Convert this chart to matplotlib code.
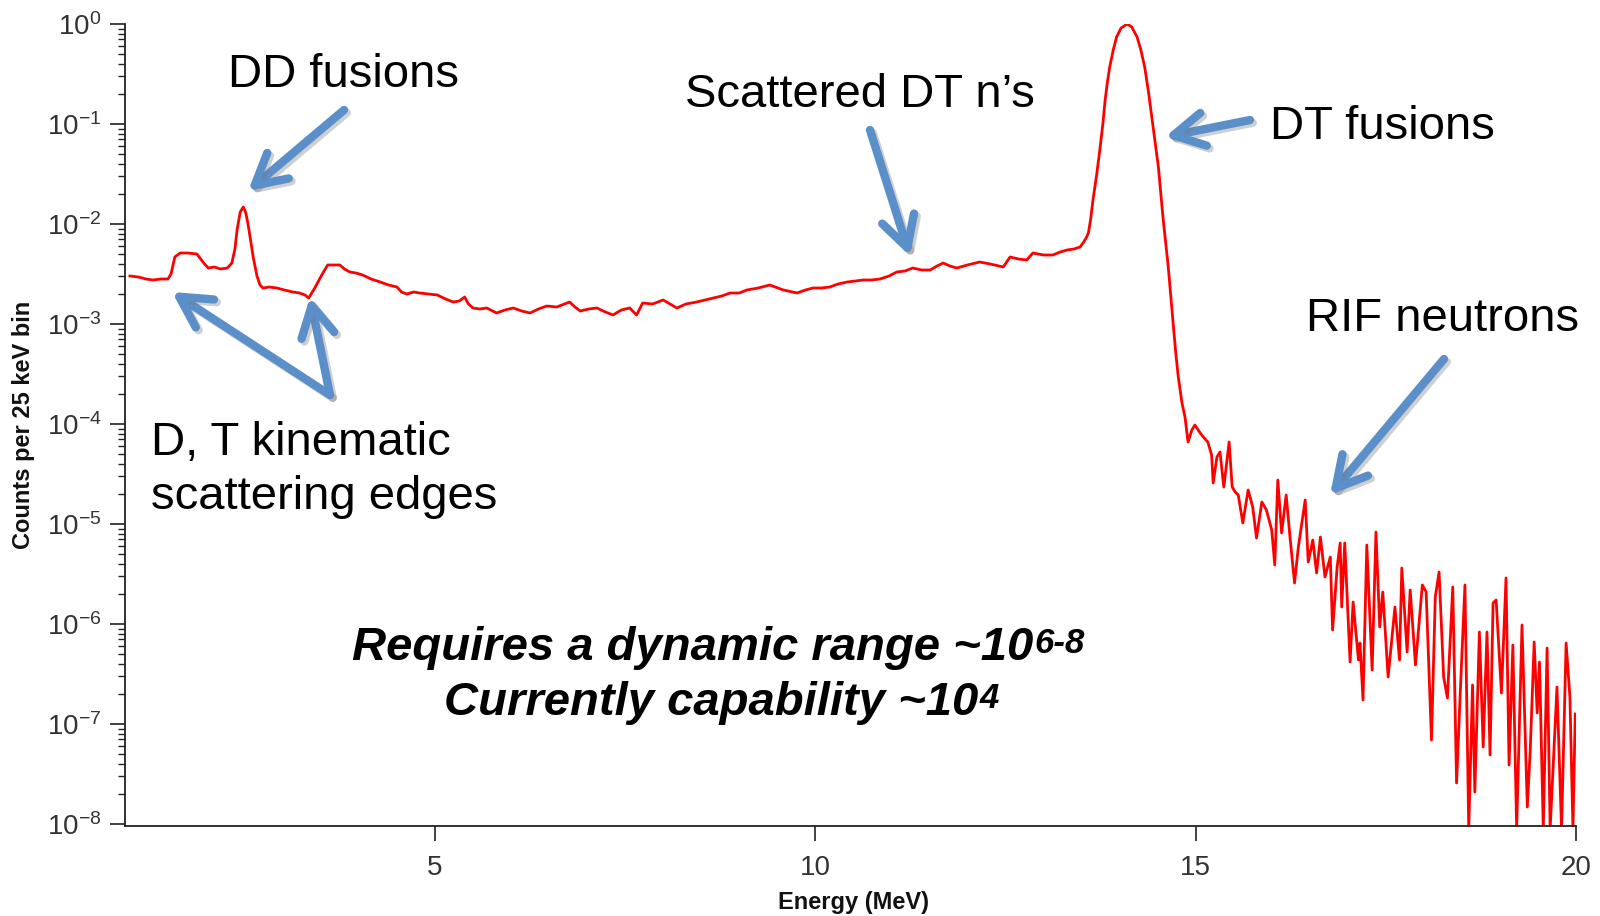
import matplotlib
matplotlib.use("Agg")
import matplotlib.pyplot as plt
import matplotlib.patheffects as pe
from matplotlib.ticker import FixedLocator, NullFormatter
import numpy as np

# ---------------- data ----------------
energy_mev = [
    0.99, 1.10, 1.20, 1.29, 1.40, 1.49, 1.53, 1.58, 1.65, 1.75, 1.87, 1.91, 1.97, 2.02, 2.10, 2.18, 2.27,
    2.33, 2.37, 2.40, 2.44, 2.48, 2.51, 2.54, 2.58, 2.61, 2.66, 2.70, 2.74, 2.82, 2.92, 3.02, 3.13, 3.22,
    3.29, 3.34, 3.38, 3.42, 3.49, 3.55, 3.59, 3.67, 3.75, 3.81, 3.88, 3.96, 4.05, 4.16, 4.28, 4.39, 4.50,
    4.56, 4.63, 4.72, 4.80, 4.92, 5.03, 5.14, 5.24, 5.32, 5.39, 5.44, 5.50, 5.59, 5.68, 5.81,
    5.92, 6.03, 6.14, 6.25, 6.36, 6.47, 6.60, 6.70, 6.77, 6.84, 6.91, 7.02, 7.13, 7.24, 7.34, 7.45, 7.56,
    7.65, 7.73, 7.86, 8.00, 8.09, 8.18, 8.30, 8.44, 8.55, 8.66, 8.77, 8.88, 9.00, 9.10, 9.25, 9.40, 9.58,
    9.76, 9.87, 9.97, 10.08, 10.19, 10.30, 10.42, 10.53, 10.63, 10.74, 10.85, 10.97, 11.07,
    11.18, 11.28, 11.40, 11.51, 11.60, 11.68, 11.77, 11.86, 12.00, 12.16, 12.30, 12.47, 12.56, 12.67,
    12.78, 12.86, 13.00, 13.12, 13.22, 13.31, 13.40, 13.48, 13.52, 13.56, 13.59, 13.62, 13.65,
    13.70, 13.74, 13.78, 13.81, 13.84, 13.87, 13.92, 13.96, 14.02, 14.10, 14.16, 14.23, 14.28, 14.33,
    14.38, 14.44, 14.51, 14.57, 14.64, 14.70, 14.74, 14.77, 14.82, 14.86,
    14.90, 14.95, 14.99, 15.06, 15.10, 15.16, 15.21, 15.23, 15.28, 15.32, 15.37, 15.44, 15.48, 15.52,
    15.56, 15.62, 15.69, 15.75, 15.80, 15.87, 15.93, 16.00, 16.04, 16.08, 16.13, 16.19, 16.24, 16.30,
    16.35, 16.44, 16.48, 16.54, 16.59, 16.64, 16.70, 16.77, 16.80, 16.86, 16.90,
    16.92, 16.96, 17.03, 17.07, 17.14, 17.16, 17.20, 17.25, 17.32, 17.37, 17.42, 17.46, 17.53, 17.62,
    17.68, 17.71, 17.78, 17.82, 17.89, 17.98, 18.03, 18.10, 18.15, 18.20, 18.26, 18.31, 18.38, 18.43,
    18.48, 18.54, 18.59, 18.64, 18.67, 18.73, 18.78, 18.83, 18.87, 18.91, 18.95, 19.02, 19.08, 19.12,
    19.17, 19.22, 19.29, 19.36, 19.40, 19.45, 19.49, 19.52, 19.57, 19.62, 19.66, 19.75, 19.81, 19.87,
    19.92, 19.96, 19.99,
]
log10_counts = [
    -2.52, -2.53, -2.55, -2.56, -2.55, -2.55, -2.50, -2.33, -2.29, -2.29, -2.30, -2.34, -2.40, -2.44,
    -2.43, -2.45, -2.44, -2.39, -2.25, -2.05, -1.88, -1.83, -1.88, -1.99, -2.18, -2.33, -2.52, -2.61,
    -2.64, -2.63, -2.64, -2.66, -2.68, -2.69, -2.71, -2.74, -2.69, -2.64, -2.54, -2.46, -2.41, -2.41,
    -2.41, -2.45, -2.48, -2.49, -2.51, -2.55, -2.58, -2.61, -2.63, -2.68, -2.70, -2.68, -2.69, -2.70,
    -2.71, -2.75, -2.78, -2.77, -2.73, -2.80, -2.84, -2.85, -2.84, -2.89,
    -2.86, -2.84, -2.87, -2.89, -2.85, -2.82, -2.83, -2.80, -2.78, -2.83, -2.87, -2.85, -2.84, -2.88,
    -2.91, -2.86, -2.84, -2.91, -2.79, -2.80, -2.76, -2.80, -2.84, -2.80, -2.78, -2.76, -2.74, -2.72,
    -2.69, -2.69, -2.66, -2.64, -2.61, -2.66, -2.69, -2.66, -2.64, -2.64, -2.63, -2.60, -2.58, -2.57,
    -2.56, -2.56, -2.55, -2.52, -2.48,
    -2.47, -2.44, -2.46, -2.46, -2.42, -2.39, -2.42, -2.44, -2.41, -2.38, -2.40, -2.43, -2.33, -2.35,
    -2.36, -2.29, -2.31, -2.31, -2.28, -2.26, -2.25, -2.23, -2.19, -2.14, -2.09, -1.95, -1.76,
    -1.50, -1.26, -1.00, -0.76, -0.58, -0.43, -0.25, -0.13, -0.04, 0.00, -0.03, -0.13, -0.26, -0.43,
    -0.68, -1.03, -1.43, -1.93, -2.43, -2.96, -3.30, -3.52, -3.79, -3.93,
    -4.18, -4.06, -4.01, -4.09, -4.13, -4.18, -4.31, -4.59, -4.33, -4.28, -4.63, -4.18, -4.63, -4.68,
    -4.71, -4.99, -4.66, -4.83, -5.14, -4.78, -4.86, -5.06, -5.41, -4.56, -5.09, -4.71, -5.13, -5.59,
    -5.23, -4.76, -5.38, -5.16, -5.49, -5.13, -5.53, -5.33, -6.06, -5.43, -5.19,
    -5.83, -5.19, -6.38, -5.78, -6.36, -6.19, -6.76, -5.21, -6.46, -5.08, -6.03, -5.68, -6.53, -5.83,
    -6.36, -5.44, -6.28, -5.66, -6.41, -5.61, -5.68, -7.16, -5.73, -5.48, -6.53, -6.74, -5.63, -7.59,
    -6.66, -5.61, -8.05, -6.61, -7.68, -6.08, -7.23, -6.08, -7.31, -5.79, -5.76, -6.69, -5.54, -7.41,
    -6.21, -8.05, -6.01, -7.83, -7.23, -6.18, -6.89, -6.38, -8.05, -6.24, -8.05, -6.63, -8.05, -6.19,
    -6.73, -8.05, -6.90,
]
x_ticks = [5, 10, 15, 20]
y_decades = [-8, -7, -6, -5, -4, -3, -2, -1, 0]
x_label = "Energy (MeV)"
y_label = "Counts per 25 keV bin"

counts = np.power(10.0, np.array(log10_counts))

# ---------------- figure ----------------
plt.rcParams["font.family"] = ["Liberation Sans", "DejaVu Sans"]
plt.rcParams["mathtext.fontset"] = "custom"
plt.rcParams["mathtext.rm"] = "Liberation Sans"
plt.rcParams["mathtext.it"] = "Liberation Sans:italic"
plt.rcParams["mathtext.bf"] = "Liberation Sans:bold"

W, H = 1600, 916
fig = plt.figure(figsize=(W / 100, H / 100), dpi=100)
ax_l, ax_r, ax_t, ax_b = 125, 1576, 24, 826
ax = fig.add_axes([ax_l / W, 1 - ax_b / H, (ax_r - ax_l) / W, (ax_b - ax_t) / H])

ax.plot(energy_mev, counts, color="#ff0000", lw=2.0, solid_joinstyle="round")
ax.set_yscale("log")
ax.set_xlim(0.925, 20)
ax.set_ylim(10 ** -8.02, 1.0)

for s in ("top", "right"):
    ax.spines[s].set_visible(False)
for s in ("left", "bottom"):
    ax.spines[s].set_color("#222222")
    ax.spines[s].set_linewidth(1.3)

ax.set_xticks(x_ticks)
ax.set_xticklabels([str(t) for t in x_ticks])
ax.tick_params(axis="x", which="major", length=11, width=1.2, direction="out",
               labelsize=20, pad=10, color="#222222", labelcolor="#333333")

major_y = [10.0 ** d for d in y_decades]
minor_y = [m * 10.0 ** d for d in y_decades[:-1] for m in range(2, 10)]
ax.yaxis.set_major_locator(FixedLocator(major_y))
ax.yaxis.set_minor_locator(FixedLocator(minor_y))
ax.yaxis.set_minor_formatter(NullFormatter())
ax.set_yticklabels([r"$\mathregular{10^{%d}}$" % d for d in y_decades])
ax.tick_params(axis="y", which="major", length=11, width=1.2, direction="out",
               labelsize=20, pad=6, color="#222222", labelcolor="#333333")
ax.tick_params(axis="y", which="minor", length=5, width=1.0, direction="out", color="#222222")

ax.set_ylabel(y_label, fontsize=17, fontweight="bold", color="#111111")
ax.yaxis.set_label_coords((24 - ax_l) / (ax_r - ax_l), 0.5)
ax.yaxis.label.set_va("center")
ax.set_xlabel(x_label, fontsize=17, fontweight="bold", color="#111111")
ax.xaxis.set_label_coords((854 - ax_l) / (ax_r - ax_l), -(902 - ax_b) / (ax_b - ax_t))
ax.xaxis.label.set_va("center")


def fx(x):
    return x / W


def fy(y):
    return 1 - y / H


# annotation texts
ann_kw = dict(fontsize=34, color="black", va="baseline", ha="left")
fig.text(fx(228), fy(87), "DD fusions", **ann_kw)
fig.text(fx(685), fy(107), "Scattered DT n\u2019s", **ann_kw)
fig.text(fx(1270), fy(139), "DT fusions", **ann_kw)
fig.text(fx(1306), fy(331), "RIF neutrons", **ann_kw)
fig.text(fx(151), fy(455), "D, T kinematic", **ann_kw)
fig.text(fx(151), fy(509), "scattering edges", **ann_kw)

big_kw = dict(fontsize=34, fontweight="bold", fontstyle="italic", color="black",
              va="baseline", ha="left")
t1 = fig.text(fx(352), fy(660), "Requires a dynamic range ~10", **big_kw)
t2 = fig.text(fx(444), fy(715), "Currently capability ~10", **big_kw)
sup_kw = dict(fontsize=25, fontweight="bold", fontstyle="italic", color="black",
              va="top", ha="left", xytext=(1, -1), textcoords="offset points",
              annotation_clip=False)
ax.annotate("6-8", xy=(1, 1), xycoords=t1, **sup_kw)
ax.annotate("4", xy=(1, 1), xycoords=t2, **sup_kw)

# arrows
arrow_color = "#5b8fca"
arrows = [
    ((344, 110), (248, 191)),
    ((870, 130), (910, 256)),
    ((1250, 120), (1165, 137)),
    ((1444, 359), (1330, 495)),
    ((330, 395), (172, 292)),
    ((330, 395), (310, 297)),
]
for (tx, ty), (hx, hy) in arrows:
    ax.annotate(
        "", xy=(hx, H - hy), xytext=(tx, H - ty),
        xycoords="figure pixels", textcoords="figure pixels",
        annotation_clip=False,
        arrowprops=dict(
            arrowstyle="->,head_length=1.1,head_width=0.6",
            mutation_scale=20, lw=6, color=arrow_color,
            shrinkA=0, shrinkB=0, capstyle="round", joinstyle="round",
            path_effects=[pe.SimpleLineShadow(offset=(2, -2), shadow_color="#777777", alpha=0.35),
                          pe.Normal()],
        ),
    )

fig.savefig("out.png", dpi=100)
